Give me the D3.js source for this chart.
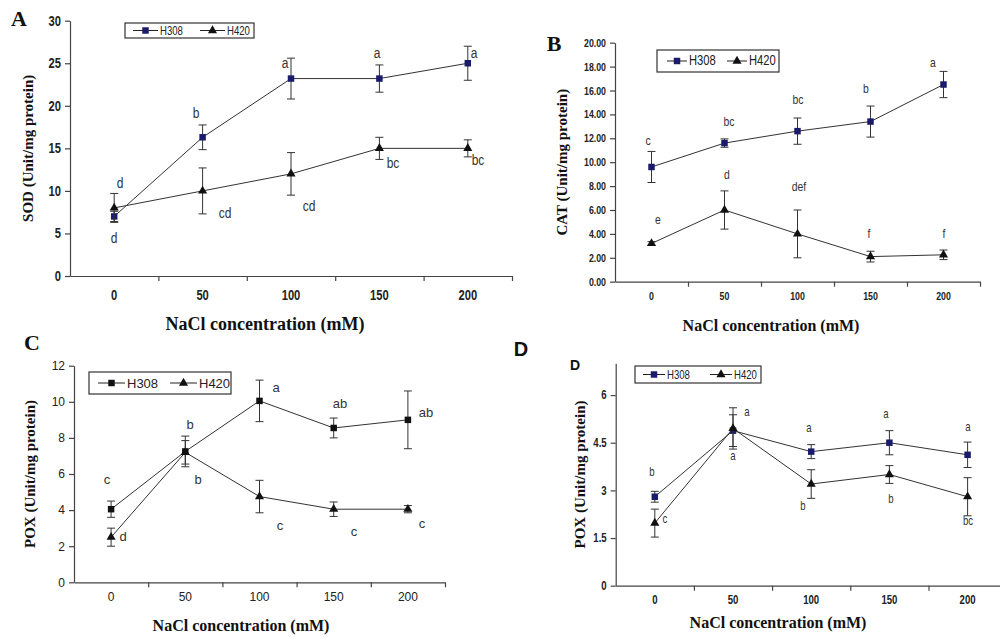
<!DOCTYPE html>
<html lang="en">
<head>
  <meta charset="UTF-8" />
  <title>Antioxidant enzymes under NaCl stress</title>
  <script src="https://d3js.org/d3.v7.min.js"></script>
  <style>
    body { margin: 0; background: white; }
    svg { display: block; }
    text { opacity: 0.999; }
    .ytitle, .xtitle, .tag { font-family: "Liberation Serif", "Times New Roman", serif; font-weight: bold; fill: #111; }
    .letter { text-anchor: middle; dominant-baseline: central; fill: #333; }
  </style>
</head>
<body>
<svg width="1000" height="637"></svg>
<script>
// ---- data ----
const doses = ["0", "50", "100", "150", "200"];
const strains = ["H308", "H420"];

// A: SOD
const sodH308 = [7.0, 16.3, 23.2, 23.2, 25.0];
const sodH308Err = [0.6, 1.45, 2.4, 1.6, 2.0];
const sodH420 = [8.0, 10.0, 12.0, 15.0, 15.0];
const sodH420Err = [1.7, 2.7, 2.5, 1.3, 1.0];
const sodH308Letters = ["d", "b", "a", "a", "a"];
const sodH420Letters = ["d", "cd", "cd", "bc", "bc"];
const sodTicks = [0, 5, 10, 15, 20, 25, 30];

// B: CAT
const catH308 = [9.6, 11.6, 12.6, 13.4, 16.5];
const catH308Err = [1.3, 0.35, 1.1, 1.3, 1.1];
const catH420 = [3.2, 6.0, 4.0, 2.1, 2.25];
const catH420Err = [0.15, 1.6, 2.0, 0.45, 0.4];
const catH308Letters = ["c", "bc", "bc", "b", "a"];
const catH420Letters = ["e", "d", "def", "f", "f"];
const catTicks = [0, 2, 4, 6, 8, 10, 12, 14, 16, 18, 20];

// C: POX
const poxCH308 = [4.05, 7.25, 10.05, 8.55, 9.0];
const poxCH308Err = [0.45, 0.85, 1.15, 0.55, 1.6];
const poxCH420 = [2.5, 7.2, 4.75, 4.05, 4.05];
const poxCH420Err = [0.5, 0.65, 0.9, 0.4, 0.2];
const poxCH308Letters = ["c", "b", "a", "ab", "ab"];
const poxCH420Letters = ["d", "b", "c", "c", "c"];
const poxCTicks = [0, 2, 4, 6, 8, 10, 12];

// D: POX
const poxDH308 = [2.8, 4.88, 4.22, 4.5, 4.12];
const poxDH308Err = [0.17, 0.5, 0.22, 0.38, 0.4];
const poxDH420 = [1.97, 4.95, 3.2, 3.5, 2.8];
const poxDH420Err = [0.44, 0.65, 0.45, 0.28, 0.6];
const poxDH308Letters = ["b", "a", "a", "a", "a"];
const poxDH420Letters = ["c", "a", "b", "b", "bc"];
const poxDTicks = [0, 1.5, 3, 4.5, 6];

// ---- layout ----
const navy = "#1b1b6b";
const black = "#111";
const sans = '"Liberation Sans", Arial, sans-serif';
const NARROW = 0.8; // horizontal squeeze to mimic Arial Narrow

const panels = [
  {
    left: 70, right: 512, top: 20.7, bottom: 276, yMax: 30, ticks: sodTicks, fmt: d3.format("d"),
    tickFont: { size: 14, weight: "bold", sq: NARROW }, xLabelDy: 20,
    letterFont: { size: 15, sq: NARROW },
    series: [
      { values: sodH308, err: sodH308Err, letters: sodH308Letters, color: navy, shape: "square",
        offsets: [[0, 22], [-7, -24], [-6, -16], [-2, -26], [6, -10]] },
      { values: sodH420, err: sodH420Err, letters: sodH420Letters, color: black, shape: "triangle",
        offsets: [[6, -25], [22, 22], [18, 32], [14, 15], [10, 12]] }
    ],
    yTitle: "SOD (Unit/mg protein)", yTitleX: 28, yTitleSize: 15,
    xTitleY: 324, xTitleCx: 265, xTitleSize: 18,
    tag: { text: "A", x: 19, y: 18, size: 22, family: null },
    legend: { x: 125, y: 23, w: 129, h: 15, pad: 8, line: 25, step: 67, size: 12, sq: NARROW }
  },
  {
    left: 615, right: 980, top: 42.7, bottom: 281.7, yMax: 20, ticks: catTicks, fmt: d3.format(".2f"),
    tickFont: { size: 11, weight: "bold", sq: NARROW }, xLabelDy: 16,
    letterFont: { size: 13, sq: NARROW },
    series: [
      { values: catH308, err: catH308Err, letters: catH308Letters, color: navy, shape: "square",
        offsets: [[-4, -27], [4, -22], [0, -32], [-5, -34], [-11, -23]] },
      { values: catH420, err: catH420Err, letters: catH420Letters, color: black, shape: "triangle",
        offsets: [[6, -24], [2, -36], [1, -48], [-2, -24], [0, -22]] }
    ],
    yTitle: "CAT (Unit/mg protein)", yTitleX: 562, yTitleSize: 15,
    xTitleY: 325, xTitleCx: 771, xTitleSize: 16,
    tag: { text: "B", x: 554, y: 43, size: 22, family: null },
    legend: { x: 657, y: 50, w: 122, h: 22, pad: 10, line: 20, step: 60, size: 14, sq: NARROW }
  },
  {
    left: 74, right: 445, top: 365.7, bottom: 582.3, yMax: 12, ticks: poxCTicks, fmt: d3.format("d"),
    tickFont: { size: 12, weight: "normal", sq: 1 }, xLabelDy: 16,
    letterFont: { size: 13, sq: 1 },
    series: [
      { values: poxCH308, err: poxCH308Err, letters: poxCH308Letters, color: black, shape: "square",
        offsets: [[-4, -30], [5, -27], [16, -14], [6, -25], [18, -8]] },
      { values: poxCH420, err: poxCH420Err, letters: poxCH420Letters, color: black, shape: "triangle",
        offsets: [[12, -1], [13, 27], [20, 28], [20, 22], [14, 14]] }
    ],
    yTitle: "POX (Unit/mg protein)", yTitleX: 30, yTitleSize: 15,
    xTitleY: 625, xTitleCx: 241, xTitleSize: 16,
    tag: { text: "C", x: 32, y: 342, size: 22, family: null },
    legend: { x: 89, y: 372, w: 142, h: 22, pad: 9, line: 27, step: 72, size: 13, sq: 1 }
  },
  {
    left: 615.7, right: 1006.7, top: 363.3, bottom: 585.7, yMax: 7, ticks: poxDTicks, fmt: d3.format("~g"),
    tickFont: { size: 12, weight: "bold", sq: NARROW }, xLabelDy: 16,
    letterFont: { size: 12, sq: NARROW },
    series: [
      { values: poxDH308, err: poxDH308Err, letters: poxDH308Letters, color: navy, shape: "square",
        offsets: [[-3, -25], [14, -19], [-2, -24], [-3, -29], [0, -28]] },
      { values: poxDH420, err: poxDH420Err, letters: poxDH420Letters, color: black, shape: "triangle",
        offsets: [[10, -4], [0, 28], [-8, 22], [2, 24], [0, 24]] }
    ],
    yTitle: "POX (Unit/mg protein)", yTitleX: 580, yTitleSize: 15,
    xTitleY: 622, xTitleCx: 778, xTitleSize: 16,
    tag: { text: "D", x: 521, y: 349, size: 20, family: sans },
    subTag: { text: "D", x: 575, y: 365, size: 14 },
    legend: { x: 635, y: 366, w: 126, h: 17, pad: 8, line: 22, step: 67, size: 12, sq: NARROW }
  }
];

const svg = d3.select("svg");
const symSquare = d3.symbol().type(d3.symbolSquare).size(42);
const symTriangle = d3.symbol().type(d3.symbolTriangle).size(36);

function shapePath(shape) {
  return shape === "square" ? symSquare() : symTriangle();
}

// squeeze text horizontally around its own anchor
function squeeze(sel, sq) {
  sel.each(function () {
    const t = d3.select(this);
    const x0 = +t.attr("x") || 0;
    t.attr("x", x0 / sq).attr("transform", `scale(${sq},1)`);
  });
}

panels.forEach(p => {
  const g = svg.append("g");

  const x = d3.scaleBand().domain(doses).range([p.left, p.right]);
  const xEdges = d3.scaleLinear().domain([0, doses.length]).range([p.left, p.right]);
  const y = d3.scaleLinear().domain([0, p.yMax]).range([p.bottom, p.top]);
  const cx = d => x(d) + x.bandwidth() / 2;

  // y axis
  const yAx = g.append("g")
    .attr("transform", `translate(${p.left},0)`)
    .call(d3.axisLeft(y).tickValues(p.ticks).tickFormat(p.fmt).tickSize(5).tickSizeOuter(0).tickPadding(4));

  // x axis: boundary ticks, labels in band centres
  const xAx = g.append("g")
    .attr("transform", `translate(0,${p.bottom})`)
    .call(d3.axisBottom(xEdges).tickValues(d3.range(1, doses.length + 1)).tickFormat("").tickSize(5).tickSizeOuter(0));
  const xLab = g.append("g")
    .attr("transform", `translate(0,${p.bottom})`)
    .call(d3.axisBottom(x).tickSize(0).tickPadding(p.xLabelDy - 6));
  xLab.select(".domain").remove();

  [yAx, xAx].forEach(a => {
    a.selectAll("path, line").attr("stroke", "#444").attr("stroke-width", 1.2);
  });
  [yAx, xLab].forEach(a => {
    const t = a.selectAll("text")
      .style("font-family", sans)
      .style("font-size", p.tickFont.size + "px")
      .style("font-weight", p.tickFont.weight)
      .attr("fill", "#222");
    if (p.tickFont.sq !== 1) squeeze(t, p.tickFont.sq);
  });

  // series
  p.series.forEach(s => {
    const pts = doses.map((d, i) => ({ d, v: s.values[i], e: s.err[i], l: s.letters[i], o: s.offsets[i] }));

    g.append("path")
      .datum(pts)
      .attr("fill", "none")
      .attr("stroke", "#333")
      .attr("stroke-width", 1)
      .attr("d", d3.line().x(q => cx(q.d)).y(q => y(q.v)));

    const eb = g.append("g").selectAll("g").data(pts).join("g")
      .attr("stroke", "#333").attr("stroke-width", 1);
    eb.append("line")
      .attr("x1", q => cx(q.d)).attr("x2", q => cx(q.d))
      .attr("y1", q => y(q.v - q.e)).attr("y2", q => y(q.v + q.e));
    [-1, 1].forEach(sign => {
      eb.append("line")
        .attr("x1", q => cx(q.d) - 4).attr("x2", q => cx(q.d) + 4)
        .attr("y1", q => y(q.v + sign * q.e)).attr("y2", q => y(q.v + sign * q.e));
    });

    g.append("g").selectAll("path").data(pts).join("path")
      .attr("transform", q => `translate(${cx(q.d)},${y(q.v)})`)
      .attr("d", shapePath(s.shape))
      .attr("fill", s.color);

    g.append("g").selectAll("text").data(pts).join("text")
      .attr("class", "letter")
      .attr("transform", q => `translate(${Math.round(cx(q.d) + q.o[0])},${Math.round(y(q.v) + q.o[1])}) scale(${p.letterFont.sq},1)`)
      .style("font-family", sans)
      .style("font-size", p.letterFont.size + "px")
      .text(q => q.l);
  });

  // titles
  g.append("text")
    .attr("class", "xtitle")
    .attr("x", p.xTitleCx).attr("y", p.xTitleY)
    .attr("text-anchor", "middle").attr("dominant-baseline", "central")
    .style("font-size", p.xTitleSize + "px")
    .text("NaCl concentration (mM)");

  g.append("text")
    .attr("class", "ytitle")
    .attr("transform", `translate(${p.yTitleX},${(p.top + p.bottom) / 2}) rotate(-90)`)
    .attr("text-anchor", "middle").attr("dominant-baseline", "central")
    .style("font-size", p.yTitleSize + "px")
    .text(p.yTitle);

  const tag = g.append("text")
    .attr("class", "tag")
    .attr("x", p.tag.x).attr("y", p.tag.y)
    .attr("text-anchor", "middle").attr("dominant-baseline", "central")
    .style("font-size", p.tag.size + "px")
    .text(p.tag.text);
  if (p.tag.family) tag.style("font-family", p.tag.family);

  if (p.subTag) {
    g.append("text")
      .attr("x", p.subTag.x).attr("y", p.subTag.y)
      .attr("text-anchor", "middle").attr("dominant-baseline", "central")
      .style("font-family", sans).style("font-weight", "bold")
      .style("font-size", p.subTag.size + "px")
      .attr("fill", "#111")
      .text(p.subTag.text);
  }

  // legend
  const L = p.legend;
  const lg = g.append("g").attr("transform", `translate(${L.x},${L.y})`);
  lg.append("rect")
    .attr("width", L.w).attr("height", L.h)
    .attr("fill", "white").attr("stroke", "#333").attr("stroke-width", 1.2);
  const items = lg.selectAll("g").data(p.series).join("g")
    .attr("transform", (s, i) => `translate(${L.pad + i * L.step},${L.h / 2})`);
  items.append("line")
    .attr("x1", 0).attr("x2", L.line)
    .attr("stroke", "#222").attr("stroke-width", 1);
  items.append("path")
    .attr("transform", `translate(${L.line / 2},0)`)
    .attr("d", s => shapePath(s.shape))
    .attr("fill", s => s.color);
  items.append("text")
    .attr("transform", `translate(${L.line + 2},0) scale(${L.sq},1)`)
    .attr("dominant-baseline", "central")
    .style("font-family", sans).style("font-size", L.size + "px")
    .attr("fill", "#222")
    .text((s, i) => strains[i]);
});
</script>
</body>
</html>
